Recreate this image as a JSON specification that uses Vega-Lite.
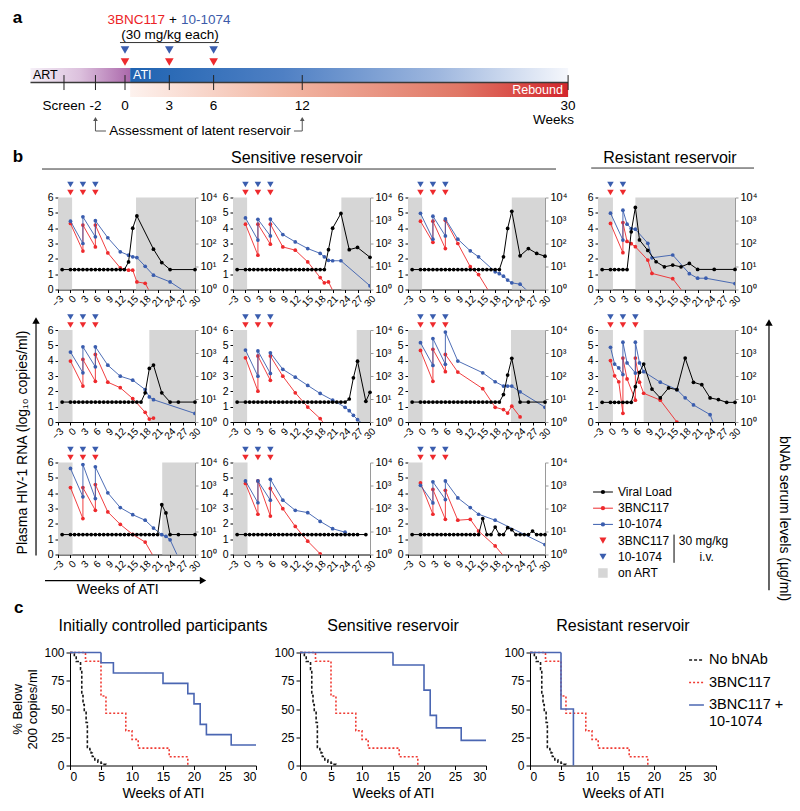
{
"$schema":"https://vega.github.io/schema/vega-lite/v6.json",
"padding":0,
"background":"white",
"config":{"view":{"stroke":null},"font":"Liberation Sans",
"axis":{"labelFont":"Liberation Sans","titleFont":"Liberation Sans","labelColor":"#000","titleColor":"#000","domainColor":"#000","tickColor":"#000","grid":false,"tickSize":3,"labelFontSize":10.5,"labelPadding":2,"titleFontWeight":"normal","labelOverlap":false},
"axisBottom":{"labelAngle":-45,"labelFontSize":10,"labelPadding":1,"labelOverlap":false,"labelBound":false},
"axisRight":{"domainColor":"#9a9a9a","tickColor":"#9a9a9a","labelFontSize":11},
"legend":{"labelFont":"Liberation Sans"},"text":{"font":"Liberation Sans","color":"#000"},"title":{"font":"Liberation Sans"}},
"datasets":{
"km":[
{"c":"all","g":"No bNAb","t":0,"s":100},{"c":"all","g":"No bNAb","t":0.7,"s":96},{"c":"all","g":"No bNAb","t":1,"s":92},{"c":"all","g":"No bNAb","t":1.7,"s":85},{"c":"all","g":"No bNAb","t":1.9,"s":62},{"c":"all","g":"No bNAb","t":2.1,"s":54},{"c":"all","g":"No bNAb","t":2.3,"s":48},{"c":"all","g":"No bNAb","t":2.6,"s":38},{"c":"all","g":"No bNAb","t":2.8,"s":16},{"c":"all","g":"No bNAb","t":3.2,"s":14},{"c":"all","g":"No bNAb","t":3.4,"s":11},{"c":"all","g":"No bNAb","t":3.6,"s":8},{"c":"all","g":"No bNAb","t":4,"s":5},{"c":"all","g":"No bNAb","t":4.5,"s":3},{"c":"all","g":"No bNAb","t":5,"s":2},{"c":"all","g":"No bNAb","t":5.5,"s":1},{"c":"all","g":"No bNAb","t":5.8,"s":0},
{"c":"all","g":"3BNC117","t":0,"s":100},{"c":"all","g":"3BNC117","t":2.5,"s":92.3},{"c":"all","g":"3BNC117","t":5,"s":61.5},{"c":"all","g":"3BNC117","t":5.8,"s":46.2},{"c":"all","g":"3BNC117","t":9,"s":30.8},{"c":"all","g":"3BNC117","t":10,"s":23.1},{"c":"all","g":"3BNC117","t":11,"s":15.4},{"c":"all","g":"3BNC117","t":16,"s":7.7},{"c":"all","g":"3BNC117","t":19,"s":0},
{"c":"ic","g":"3BNC117 + 10-1074","t":0,"s":100},{"c":"ic","g":"3BNC117 + 10-1074","t":5,"s":90.9},{"c":"ic","g":"3BNC117 + 10-1074","t":7,"s":81.8},{"c":"ic","g":"3BNC117 + 10-1074","t":15,"s":72.7},{"c":"ic","g":"3BNC117 + 10-1074","t":19,"s":63.6},{"c":"ic","g":"3BNC117 + 10-1074","t":20,"s":54.5},{"c":"ic","g":"3BNC117 + 10-1074","t":21,"s":36.4},{"c":"ic","g":"3BNC117 + 10-1074","t":22,"s":27.3},{"c":"ic","g":"3BNC117 + 10-1074","t":26,"s":18.2},{"c":"ic","g":"3BNC117 + 10-1074","t":30,"s":18.2},
{"c":"sr","g":"3BNC117 + 10-1074","t":0,"s":100},{"c":"sr","g":"3BNC117 + 10-1074","t":15,"s":88.9},{"c":"sr","g":"3BNC117 + 10-1074","t":20,"s":66.7},{"c":"sr","g":"3BNC117 + 10-1074","t":21,"s":44.4},{"c":"sr","g":"3BNC117 + 10-1074","t":22,"s":33.3},{"c":"sr","g":"3BNC117 + 10-1074","t":26,"s":22.2},{"c":"sr","g":"3BNC117 + 10-1074","t":30,"s":22.2},
{"c":"rr","g":"3BNC117 + 10-1074","t":0,"s":100},{"c":"rr","g":"3BNC117 + 10-1074","t":5,"s":50},{"c":"rr","g":"3BNC117 + 10-1074","t":7,"s":0}
]},
"columns":9,
"spacing":{"row":40.5,"column":0},
"bounds":"flush",
"align":"each",
"resolve":{"scale":{"color":"independent","strokeDash":"independent"},"legend":{"color":"independent","strokeDash":"independent"}},
"concat":[
{"vconcat":[{
"width":800,"height":156.5,
"resolve":{"scale":{"x":"independent"}},
"layer":[
{"data":{"values":[{"phase":"ART","w":-6.4,"w2":0.35}]},"mark":{"type":"rect","color":{"gradient":"linear","stops":[{"offset":0,"color":"#f5eff7"},{"offset":0.5,"color":"#dcc0dd"},{"offset":1,"color":"#ab68ab"}]}},"encoding":{"x":{"field":"w","type":"quantitative","scale":{"domain":[-8.463,45.7],"nice":false,"zero":false},"axis":null},"x2":{"field":"w2"},"y":{"datum":0.345,"type":"quantitative","scale":{"domain":[0,0.7944],"reverse":true,"nice":false,"zero":false},"axis":null},"y2":{"datum":0.416}}},
{"data":{"values":[{"phase":"ATI","w":0.35,"w2":30}]},"mark":{"type":"rect","color":{"gradient":"linear","stops":[{"offset":0,"color":"#1f63b1"},{"offset":0.35,"color":"#4f80c4"},{"offset":0.7,"color":"#9db6de"},{"offset":1,"color":"#f5f7fc"}]}},"encoding":{"x":{"field":"w","type":"quantitative","scale":{"domain":[-8.463,45.7],"nice":false,"zero":false},"axis":null},"x2":{"field":"w2"},"y":{"datum":0.345,"type":"quantitative","scale":{"domain":[0,0.7944],"reverse":true,"nice":false,"zero":false},"axis":null},"y2":{"datum":0.416}}},
{"data":{"values":[{"phase":"Rebound","w":0.35,"w2":30}]},"mark":{"type":"rect","color":{"gradient":"linear","stops":[{"offset":0,"color":"#fdf2ee"},{"offset":0.35,"color":"#f2b7a4"},{"offset":0.75,"color":"#e07766"},{"offset":1,"color":"#d3262c"}]}},"encoding":{"x":{"field":"w","type":"quantitative","scale":{"domain":[-8.463,45.7],"nice":false,"zero":false},"axis":null},"x2":{"field":"w2"},"y":{"datum":0.421,"type":"quantitative","scale":{"domain":[0,0.7944],"reverse":true,"nice":false,"zero":false},"axis":null},"y2":{"datum":0.492}}},
{"data":{"values":[{}]},"mark":{"type":"rule","color":"#3a3a3a","strokeWidth":1.5},"encoding":{"x":{"datum":-6.4,"type":"quantitative","scale":{"domain":[-8.463,45.7],"nice":false,"zero":false},"axis":null},"x2":{"datum":30},"y":{"datum":0.419,"type":"quantitative","scale":{"domain":[0,0.7944],"reverse":true,"nice":false,"zero":false},"axis":null}}},
{"data":{"values":[{"t":"Screen","w":-4.13},{"t":"-2","w":-2},{"t":"0","w":0},{"t":"3","w":3},{"t":"6","w":6},{"t":"12","w":12},{"t":"30","w":30}]},"mark":{"type":"rule","color":"#222","strokeWidth":1},"encoding":{"x":{"field":"w","type":"quantitative","scale":{"domain":[-8.463,45.7],"nice":false,"zero":false},"axis":null},"y":{"datum":0.381,"type":"quantitative","scale":{"domain":[0,0.7944],"reverse":true,"nice":false,"zero":false},"axis":null},"y2":{"datum":0.457}}},
{"data":{"values":[{"t":"Screen","w":-4.13},{"t":"-2","w":-2},{"t":"0","w":0},{"t":"3","w":3},{"t":"6","w":6},{"t":"12","w":12},{"t":"30","w":30}]},"mark":{"type":"text","fontSize":13.5,"baseline":"middle"},"encoding":{"x":{"field":"w","type":"quantitative","scale":{"domain":[-8.463,45.7],"nice":false,"zero":false},"axis":null},"y":{"datum":0.538,"type":"quantitative","scale":{"domain":[0,0.7944],"reverse":true,"nice":false,"zero":false},"axis":null},"text":{"field":"t"}}},
{"data":{"values":[{}]},"mark":{"type":"text","text":"ART","align":"left","baseline":"middle","fontSize":12.5},"encoding":{"x":{"datum":-6.23,"type":"quantitative","scale":{"domain":[-8.463,45.7],"nice":false,"zero":false},"axis":null},"y":{"datum":0.381,"type":"quantitative","scale":{"domain":[0,0.7944],"reverse":true,"nice":false,"zero":false},"axis":null}}},
{"data":{"values":[{}]},"mark":{"type":"text","text":"ATI","align":"left","baseline":"middle","fontSize":12.5,"color":"#fff"},"encoding":{"x":{"datum":0.54,"type":"quantitative","scale":{"domain":[-8.463,45.7],"nice":false,"zero":false},"axis":null},"y":{"datum":0.381,"type":"quantitative","scale":{"domain":[0,0.7944],"reverse":true,"nice":false,"zero":false},"axis":null}}},
{"data":{"values":[{}]},"mark":{"type":"text","text":"Rebound","align":"right","baseline":"middle","fontSize":12.5,"color":"#fff"},"encoding":{"x":{"datum":29.65,"type":"quantitative","scale":{"domain":[-8.463,45.7],"nice":false,"zero":false},"axis":null},"y":{"datum":0.457,"type":"quantitative","scale":{"domain":[0,0.7944],"reverse":true,"nice":false,"zero":false},"axis":null}}},
{"data":{"values":[{}]},"mark":{"type":"text","text":"Weeks","align":"right","baseline":"middle","fontSize":13.5},"encoding":{"x":{"datum":30.4,"type":"quantitative","scale":{"domain":[-8.463,45.7],"nice":false,"zero":false},"axis":null},"y":{"datum":0.609,"type":"quantitative","scale":{"domain":[0,0.7944],"reverse":true,"nice":false,"zero":false},"axis":null}}},
{"data":{"values":[{"w":0},{"w":3},{"w":6}]},"mark":{"type":"point","shape":"triangle-down","filled":true,"size":75,"color":"#3a5dae","opacity":1},"encoding":{"x":{"field":"w","type":"quantitative","scale":{"domain":[-8.463,45.7],"nice":false,"zero":false},"axis":null},"y":{"datum":0.254,"type":"quantitative","scale":{"domain":[0,0.7944],"reverse":true,"nice":false,"zero":false},"axis":null}}},
{"data":{"values":[{"w":0},{"w":3},{"w":6}]},"mark":{"type":"point","shape":"triangle-down","filled":true,"size":75,"color":"#ee2a2d","opacity":1},"encoding":{"x":{"field":"w","type":"quantitative","scale":{"domain":[-8.463,45.7],"nice":false,"zero":false},"axis":null},"y":{"datum":0.315,"type":"quantitative","scale":{"domain":[0,0.7944],"reverse":true,"nice":false,"zero":false},"axis":null}}},
{"data":{"values":[{}]},"mark":{"type":"rule","color":"#333","strokeWidth":1},"encoding":{"x":{"datum":-0.34,"type":"quantitative","scale":{"domain":[-8.463,45.7],"nice":false,"zero":false},"axis":null},"x2":{"datum":6.36},"y":{"datum":0.216,"type":"quantitative","scale":{"domain":[0,0.7944],"reverse":true,"nice":false,"zero":false},"axis":null}}},
{"data":{"values":[{}]},"mark":{"type":"text","text":"3BNC117","align":"right","baseline":"middle","fontSize":13.5,"color":"#ec2327"},"encoding":{"x":{"datum":2.71,"type":"quantitative","scale":{"domain":[-8.463,45.7],"nice":false,"zero":false},"axis":null},"y":{"datum":0.1015,"type":"quantitative","scale":{"domain":[0,0.7944],"reverse":true,"nice":false,"zero":false},"axis":null}}},
{"data":{"values":[{}]},"mark":{"type":"text","text":"+","align":"center","baseline":"middle","fontSize":13.5},"encoding":{"x":{"datum":3.25,"type":"quantitative","scale":{"domain":[-8.463,45.7],"nice":false,"zero":false},"axis":null},"y":{"datum":0.1015,"type":"quantitative","scale":{"domain":[0,0.7944],"reverse":true,"nice":false,"zero":false},"axis":null}}},
{"data":{"values":[{}]},"mark":{"type":"text","text":"10-1074","align":"left","baseline":"middle","fontSize":13.5,"color":"#3c5ba9"},"encoding":{"x":{"datum":3.79,"type":"quantitative","scale":{"domain":[-8.463,45.7],"nice":false,"zero":false},"axis":null},"y":{"datum":0.1015,"type":"quantitative","scale":{"domain":[0,0.7944],"reverse":true,"nice":false,"zero":false},"axis":null}}},
{"data":{"values":[{}]},"mark":{"type":"text","text":"(30 mg/kg each)","align":"center","baseline":"middle","fontSize":13.5},"encoding":{"x":{"datum":3.05,"type":"quantitative","scale":{"domain":[-8.463,45.7],"nice":false,"zero":false},"axis":null},"y":{"datum":0.178,"type":"quantitative","scale":{"domain":[0,0.7944],"reverse":true,"nice":false,"zero":false},"axis":null}}},
{"data":{"values":[{"w":-2},{"w":12}]},"mark":{"type":"rule","color":"#555","strokeWidth":1},"encoding":{"x":{"field":"w","type":"quantitative","scale":{"domain":[-8.463,45.7],"nice":false,"zero":false},"axis":null},"y":{"datum":0.612,"type":"quantitative","scale":{"domain":[0,0.7944],"reverse":true,"nice":false,"zero":false},"axis":null},"y2":{"datum":0.665}}},
{"data":{"values":[{"w":-2},{"w":12}]},"mark":{"type":"point","shape":"triangle-up","filled":true,"size":22,"color":"#555","opacity":1},"encoding":{"x":{"field":"w","type":"quantitative","scale":{"domain":[-8.463,45.7],"nice":false,"zero":false},"axis":null},"y":{"datum":0.604,"type":"quantitative","scale":{"domain":[0,0.7944],"reverse":true,"nice":false,"zero":false},"axis":null}}},
{"data":{"values":[{}]},"mark":{"type":"rule","color":"#555","strokeWidth":1},"encoding":{"x":{"datum":-2,"type":"quantitative","scale":{"domain":[-8.463,45.7],"nice":false,"zero":false},"axis":null},"x2":{"datum":-1.29},"y":{"datum":0.665,"type":"quantitative","scale":{"domain":[0,0.7944],"reverse":true,"nice":false,"zero":false},"axis":null}}},
{"data":{"values":[{}]},"mark":{"type":"rule","color":"#555","strokeWidth":1},"encoding":{"x":{"datum":11.44,"type":"quantitative","scale":{"domain":[-8.463,45.7],"nice":false,"zero":false},"axis":null},"x2":{"datum":12},"y":{"datum":0.665,"type":"quantitative","scale":{"domain":[0,0.7944],"reverse":true,"nice":false,"zero":false},"axis":null}}},
{"data":{"values":[{}]},"mark":{"type":"text","text":"Assessment of latent reservoir","align":"center","baseline":"middle","fontSize":13.5},"encoding":{"x":{"datum":5.08,"type":"quantitative","scale":{"domain":[-8.463,45.7],"nice":false,"zero":false},"axis":null},"y":{"datum":0.665,"type":"quantitative","scale":{"domain":[0,0.7944],"reverse":true,"nice":false,"zero":false},"axis":null}}},
{"data":{"values":[{}]},"mark":{"type":"text","text":"a","align":"left","baseline":"middle","fontSize":17,"fontWeight":"bold"},"encoding":{"x":{"datum":0.016,"type":"quantitative","scale":{"domain":[0,1],"nice":false,"zero":false},"axis":null},"y":{"datum":0.089,"type":"quantitative","scale":{"domain":[0,0.7944],"reverse":true,"nice":false,"zero":false},"axis":null}}},
{"data":{"values":[{}]},"mark":{"type":"text","text":"b","align":"left","baseline":"middle","fontSize":17,"fontWeight":"bold"},"encoding":{"x":{"datum":0.016,"type":"quantitative","scale":{"domain":[0,1],"nice":false,"zero":false},"axis":null},"y":{"datum":0.797,"type":"quantitative","scale":{"domain":[0,0.7944],"reverse":true,"nice":false,"zero":false},"axis":null}}},
{"data":{"values":[{}]},"mark":{"type":"text","text":"Sensitive reservoir","align":"center","baseline":"middle","fontSize":16},"encoding":{"x":{"datum":0.371,"type":"quantitative","scale":{"domain":[0,1],"nice":false,"zero":false},"axis":null},"y":{"datum":0.802,"type":"quantitative","scale":{"domain":[0,0.7944],"reverse":true,"nice":false,"zero":false},"axis":null}}},
{"data":{"values":[{}]},"mark":{"type":"rule","color":"#333","strokeWidth":1},"encoding":{"x":{"datum":0.0525,"type":"quantitative","scale":{"domain":[0,1],"nice":false,"zero":false},"axis":null},"x2":{"datum":0.695},"y":{"datum":0.858,"type":"quantitative","scale":{"domain":[0,0.7944],"reverse":true,"nice":false,"zero":false},"axis":null}}},
{"data":{"values":[{}]},"mark":{"type":"text","text":"Resistant reservoir","align":"center","baseline":"middle","fontSize":16},"encoding":{"x":{"datum":0.8375,"type":"quantitative","scale":{"domain":[0,1],"nice":false,"zero":false},"axis":null},"y":{"datum":0.802,"type":"quantitative","scale":{"domain":[0,0.7944],"reverse":true,"nice":false,"zero":false},"axis":null}}},
{"data":{"values":[{}]},"mark":{"type":"rule","color":"#333","strokeWidth":1},"encoding":{"x":{"datum":0.739,"type":"quantitative","scale":{"domain":[0,1],"nice":false,"zero":false},"axis":null},"x2":{"datum":0.9425},"y":{"datum":0.853,"type":"quantitative","scale":{"domain":[0,0.7944],"reverse":true,"nice":false,"zero":false},"axis":null}}}
]
}],"spacing":0,"bounds":"flush"},
{"width":0,"height":156.5,"data":{"values":[]},"mark":"point"},
{"width":0,"height":156.5,"data":{"values":[]},"mark":"point"},
{"width":0,"height":156.5,"data":{"values":[]},"mark":"point"},
{"width":0,"height":156.5,"data":{"values":[]},"mark":"point"},
{"width":0,"height":156.5,"data":{"values":[]},"mark":"point"},
{"width":0,"height":156.5,"data":{"values":[]},"mark":"point"},
{"width":0,"height":156.5,"data":{"values":[]},"mark":"point"},
{"width":0,"height":156.5,"data":{"values":[]},"mark":"point"},

{"width":58,"height":92,"data":{"values":[]},"mark":"point"},
{"width":137,"height":92,
"encoding":{"x":{"field":"w","type":"quantitative","scale":{"domain":[-3,30],"nice":false},"axis":{"values":[-3,0,3,6,9,12,15,18,21,24,27,30],"title":null}}},
"layer":[
{"data":{"values":[{"w":-3,"w2":0.4},{"w":15.8,"w2":30}]},"mark":{"type":"rect","color":"#d6d6d6"},"encoding":{"x2":{"field":"w2"}}},
{"data":{"values":[{"i":0,"w":0,"v":2.87},{"i":1,"w":3,"v":1.67},{"i":2,"w":3,"v":2.8},{"i":3,"w":6,"v":1.85},{"i":4,"w":6,"v":2.8},{"i":5,"w":9,"v":1.59},{"i":6,"w":12,"v":0.94},{"i":7,"w":14,"v":0.84},{"i":8,"w":15,"v":0.84},{"i":9,"w":16,"v":0.33},{"i":10,"w":18,"v":0.27},{"i":11,"w":20,"v":-0.4}]},"mark":{"type":"line","color":"#ee2a2d","strokeWidth":0.9,"clip":true,"point":{"filled":true,"size":14,"color":"#ee2a2d","opacity":1,"clip":true}},"encoding":{"y":{"field":"v","type":"quantitative","scale":{"domain":[0,4],"nice":false},"axis":{"orient":"right","values":[0,1,2,3,4],"labelExpr":"'10'+['⁰','¹','²','³','⁴'][datum.value]","title":null}},"order":{"field":"i"}}},
{"data":{"values":[{"i":0,"w":0,"v":2.97},{"i":1,"w":3,"v":2.0},{"i":2,"w":3,"v":3.16},{"i":3,"w":6,"v":2.29},{"i":4,"w":6,"v":2.99},{"i":5,"w":9,"v":2.25},{"i":6,"w":12,"v":1.64},{"i":7,"w":14,"v":1.49},{"i":8,"w":15,"v":1.42},{"i":9,"w":16,"v":1.39},{"i":10,"w":18,"v":1.01},{"i":11,"w":20,"v":0.62},{"i":12,"w":24,"v":0.33},{"i":13,"w":30,"v":-0.38}]},"mark":{"type":"line","color":"#3a5dae","strokeWidth":0.9,"clip":true,"point":{"filled":true,"size":14,"color":"#3a5dae","opacity":1,"clip":true}},"encoding":{"y":{"field":"v","type":"quantitative","scale":{"domain":[0,4],"nice":false},"axis":null},"order":{"field":"i"}}},
{"data":{"values":[{"w":-2,"v":1.3},{"w":0,"v":1.3},{"w":1,"v":1.3},{"w":2,"v":1.3},{"w":3,"v":1.3},{"w":4,"v":1.3},{"w":5,"v":1.3},{"w":6,"v":1.3},{"w":7,"v":1.3},{"w":8,"v":1.3},{"w":9,"v":1.3},{"w":10,"v":1.3},{"w":11,"v":1.3},{"w":12,"v":1.3},{"w":13,"v":1.3},{"w":14,"v":1.8},{"w":15,"v":4.0},{"w":16,"v":4.8},{"w":20,"v":2.63},{"w":22,"v":1.76},{"w":24,"v":1.3},{"w":30,"v":1.3}]},"mark":{"type":"line","color":"#000","strokeWidth":1,"point":{"filled":true,"size":14,"color":"#000","opacity":1}},"encoding":{"y":{"field":"v","type":"quantitative","scale":{"domain":[0,6],"nice":false},"axis":{"orient":"left","values":[0,1,2,3,4,5,6],"title":null}}}},
{"data":{"values":[{"w":0},{"w":3},{"w":6}]},"mark":{"type":"point","shape":"triangle-down","filled":true,"size":42,"color":"#3a5dae","opacity":1},"encoding":{"y":{"datum":6.85,"type":"quantitative","scale":{"domain":[0,6],"nice":false},"axis":null}}},
{"data":{"values":[{"w":0},{"w":3},{"w":6}]},"mark":{"type":"point","shape":"triangle-down","filled":true,"size":42,"color":"#ee2a2d","opacity":1},"encoding":{"y":{"datum":6.33,"type":"quantitative","scale":{"domain":[0,6],"nice":false},"axis":null}}},
{"data":{"values":[{"id":"9242"}]},"mark":{"type":"text","align":"left","baseline":"middle","fontSize":13},"encoding":{"x":{"datum":0.7,"type":"quantitative"},"y":{"datum":0.5,"type":"quantitative","scale":{"domain":[0,6],"nice":false},"axis":null},"text":{"field":"id"}}}
],
"resolve":{"scale":{"y":"independent"}}},
{"width":37.5,"height":92,"data":{"values":[]},"mark":"point"},
{"width":137,"height":92,
"encoding":{"x":{"field":"w","type":"quantitative","scale":{"domain":[-3,30],"nice":false},"axis":{"values":[-3,0,3,6,9,12,15,18,21,24,27,30],"title":null}}},
"layer":[
{"data":{"values":[{"w":-3,"w2":0.4},{"w":23.1,"w2":30}]},"mark":{"type":"rect","color":"#d6d6d6"},"encoding":{"x2":{"field":"w2"}}},
{"data":{"values":[{"i":0,"w":0,"v":2.84},{"i":1,"w":3,"v":1.49},{"i":2,"w":3,"v":2.84},{"i":3,"w":6,"v":1.97},{"i":4,"w":6,"v":2.84},{"i":5,"w":9,"v":1.85},{"i":6,"w":12,"v":1.71},{"i":7,"w":15,"v":1.2},{"i":8,"w":18,"v":0.52},{"i":9,"w":19,"v":0.29},{"i":10,"w":20,"v":0.33},{"i":11,"w":22,"v":-0.4}]},"mark":{"type":"line","color":"#ee2a2d","strokeWidth":0.9,"clip":true,"point":{"filled":true,"size":14,"color":"#ee2a2d","opacity":1,"clip":true}},"encoding":{"y":{"field":"v","type":"quantitative","scale":{"domain":[0,4],"nice":false},"axis":{"orient":"right","values":[0,1,2,3,4],"labelExpr":"'10'+['⁰','¹','²','³','⁴'][datum.value]","title":null}},"order":{"field":"i"}}},
{"data":{"values":[{"i":0,"w":0,"v":3.11},{"i":1,"w":3,"v":2.15},{"i":2,"w":3,"v":3.05},{"i":3,"w":6,"v":2.33},{"i":4,"w":6,"v":3.06},{"i":5,"w":9,"v":2.39},{"i":6,"w":12,"v":2.07},{"i":7,"w":15,"v":1.78},{"i":8,"w":18,"v":1.57},{"i":9,"w":19,"v":1.42},{"i":10,"w":20,"v":1.27},{"i":11,"w":21,"v":1.25},{"i":12,"w":23,"v":1.25},{"i":13,"w":30,"v":0.16}]},"mark":{"type":"line","color":"#3a5dae","strokeWidth":0.9,"clip":true,"point":{"filled":true,"size":14,"color":"#3a5dae","opacity":1,"clip":true}},"encoding":{"y":{"field":"v","type":"quantitative","scale":{"domain":[0,4],"nice":false},"axis":null},"order":{"field":"i"}}},
{"data":{"values":[{"w":-2,"v":1.3},{"w":0,"v":1.3},{"w":1,"v":1.3},{"w":2,"v":1.3},{"w":3,"v":1.3},{"w":4,"v":1.3},{"w":5,"v":1.3},{"w":6,"v":1.3},{"w":7,"v":1.3},{"w":8,"v":1.3},{"w":9,"v":1.3},{"w":10,"v":1.3},{"w":11,"v":1.3},{"w":12,"v":1.3},{"w":13,"v":1.3},{"w":14,"v":1.3},{"w":15,"v":1.3},{"w":16,"v":1.3},{"w":17,"v":1.3},{"w":18,"v":1.3},{"w":19,"v":1.3},{"w":20,"v":2.6},{"w":21,"v":4.0},{"w":23,"v":4.96},{"w":25,"v":2.6},{"w":27,"v":2.74},{"w":30,"v":2.1}]},"mark":{"type":"line","color":"#000","strokeWidth":1,"point":{"filled":true,"size":14,"color":"#000","opacity":1}},"encoding":{"y":{"field":"v","type":"quantitative","scale":{"domain":[0,6],"nice":false},"axis":{"orient":"left","values":[0,1,2,3,4,5,6],"title":null}}}},
{"data":{"values":[{"w":0},{"w":3},{"w":6}]},"mark":{"type":"point","shape":"triangle-down","filled":true,"size":42,"color":"#3a5dae","opacity":1},"encoding":{"y":{"datum":6.85,"type":"quantitative","scale":{"domain":[0,6],"nice":false},"axis":null}}},
{"data":{"values":[{"w":0},{"w":3},{"w":6}]},"mark":{"type":"point","shape":"triangle-down","filled":true,"size":42,"color":"#ee2a2d","opacity":1},"encoding":{"y":{"datum":6.33,"type":"quantitative","scale":{"domain":[0,6],"nice":false},"axis":null}}},
{"data":{"values":[{"id":"9243"}]},"mark":{"type":"text","align":"left","baseline":"middle","fontSize":13},"encoding":{"x":{"datum":0.7,"type":"quantitative"},"y":{"datum":0.5,"type":"quantitative","scale":{"domain":[0,6],"nice":false},"axis":null},"text":{"field":"id"}}}
],
"resolve":{"scale":{"y":"independent"}}},
{"width":37.5,"height":92,"data":{"values":[]},"mark":"point"},
{"width":137,"height":92,
"encoding":{"x":{"field":"w","type":"quantitative","scale":{"domain":[-3,30],"nice":false},"axis":{"values":[-3,0,3,6,9,12,15,18,21,24,27,30],"title":null}}},
"layer":[
{"data":{"values":[{"w":-3,"w2":0.4},{"w":22,"w2":30}]},"mark":{"type":"rect","color":"#d6d6d6"},"encoding":{"x2":{"field":"w2"}}},
{"data":{"values":[{"i":0,"w":0,"v":2.97},{"i":1,"w":3,"v":2.05},{"i":2,"w":3,"v":2.97},{"i":3,"w":6,"v":1.78},{"i":4,"w":6,"v":3.01},{"i":5,"w":9,"v":2.0},{"i":6,"w":12,"v":0.99},{"i":7,"w":14,"v":0.65},{"i":8,"w":18,"v":-0.53}]},"mark":{"type":"line","color":"#ee2a2d","strokeWidth":0.9,"clip":true,"point":{"filled":true,"size":14,"color":"#ee2a2d","opacity":1,"clip":true}},"encoding":{"y":{"field":"v","type":"quantitative","scale":{"domain":[0,4],"nice":false},"axis":{"orient":"right","values":[0,1,2,3,4],"labelExpr":"'10'+['⁰','¹','²','³','⁴'][datum.value]","title":null}},"order":{"field":"i"}}},
{"data":{"values":[{"i":0,"w":0,"v":3.31},{"i":1,"w":3,"v":2.19},{"i":2,"w":3,"v":3.19},{"i":3,"w":6,"v":2.33},{"i":4,"w":6,"v":3.07},{"i":5,"w":9,"v":2.19},{"i":6,"w":12,"v":1.68},{"i":7,"w":14,"v":1.42},{"i":8,"w":18,"v":0.77},{"i":9,"w":19,"v":0.69},{"i":10,"w":20,"v":0.58},{"i":11,"w":21,"v":0.41},{"i":12,"w":22,"v":0.29},{"i":13,"w":24,"v":0.23},{"i":14,"w":28,"v":-0.43}]},"mark":{"type":"line","color":"#3a5dae","strokeWidth":0.9,"clip":true,"point":{"filled":true,"size":14,"color":"#3a5dae","opacity":1,"clip":true}},"encoding":{"y":{"field":"v","type":"quantitative","scale":{"domain":[0,4],"nice":false},"axis":null},"order":{"field":"i"}}},
{"data":{"values":[{"w":-2,"v":1.3},{"w":0,"v":1.3},{"w":1,"v":1.3},{"w":2,"v":1.3},{"w":3,"v":1.3},{"w":4,"v":1.3},{"w":5,"v":1.3},{"w":6,"v":1.3},{"w":7,"v":1.3},{"w":8,"v":1.3},{"w":9,"v":1.3},{"w":10,"v":1.3},{"w":11,"v":1.3},{"w":12,"v":1.3},{"w":13,"v":1.3},{"w":14,"v":1.3},{"w":15,"v":1.3},{"w":16,"v":1.3},{"w":17,"v":1.3},{"w":18,"v":1.3},{"w":19,"v":1.3},{"w":20,"v":2.13},{"w":21,"v":3.98},{"w":22,"v":5.1},{"w":24,"v":2.2},{"w":26,"v":2.67},{"w":28,"v":2.35},{"w":30,"v":2.17}]},"mark":{"type":"line","color":"#000","strokeWidth":1,"point":{"filled":true,"size":14,"color":"#000","opacity":1}},"encoding":{"y":{"field":"v","type":"quantitative","scale":{"domain":[0,6],"nice":false},"axis":{"orient":"left","values":[0,1,2,3,4,5,6],"title":null}}}},
{"data":{"values":[{"w":0},{"w":3},{"w":6}]},"mark":{"type":"point","shape":"triangle-down","filled":true,"size":42,"color":"#3a5dae","opacity":1},"encoding":{"y":{"datum":6.85,"type":"quantitative","scale":{"domain":[0,6],"nice":false},"axis":null}}},
{"data":{"values":[{"w":0},{"w":3},{"w":6}]},"mark":{"type":"point","shape":"triangle-down","filled":true,"size":42,"color":"#ee2a2d","opacity":1},"encoding":{"y":{"datum":6.33,"type":"quantitative","scale":{"domain":[0,6],"nice":false},"axis":null}}},
{"data":{"values":[{"id":"9244"}]},"mark":{"type":"text","align":"left","baseline":"middle","fontSize":13},"encoding":{"x":{"datum":0.7,"type":"quantitative"},"y":{"datum":0.5,"type":"quantitative","scale":{"domain":[0,6],"nice":false},"axis":null},"text":{"field":"id"}}}
],
"resolve":{"scale":{"y":"independent"}}},
{"width":53,"height":92,"data":{"values":[]},"mark":"point"},
{"width":137,"height":92,
"encoding":{"x":{"field":"w","type":"quantitative","scale":{"domain":[-3,30],"nice":false},"axis":{"values":[-3,0,3,6,9,12,15,18,21,24,27,30],"title":null}}},
"layer":[
{"data":{"values":[{"w":-3,"w2":0.6},{"w":6,"w2":30}]},"mark":{"type":"rect","color":"#d6d6d6"},"encoding":{"x2":{"field":"w2"}}},
{"data":{"values":[{"i":0,"w":0,"v":2.87},{"i":1,"w":3,"v":1.6},{"i":2,"w":3,"v":2.91},{"i":3,"w":4,"v":2.09},{"i":4,"w":5,"v":1.99},{"i":5,"w":6,"v":1.86},{"i":6,"w":9,"v":1.28},{"i":7,"w":10,"v":0.7},{"i":8,"w":15,"v":0.47},{"i":9,"w":19,"v":-0.47}]},"mark":{"type":"line","color":"#ee2a2d","strokeWidth":0.9,"clip":true,"point":{"filled":true,"size":14,"color":"#ee2a2d","opacity":1,"clip":true}},"encoding":{"y":{"field":"v","type":"quantitative","scale":{"domain":[0,4],"nice":false},"axis":{"orient":"right","values":[0,1,2,3,4],"labelExpr":"'10'+['⁰','¹','²','³','⁴'][datum.value]","title":null}},"order":{"field":"i"}}},
{"data":{"values":[{"i":0,"w":0,"v":3.32},{"i":1,"w":3,"v":2.15},{"i":2,"w":3,"v":3.45},{"i":3,"w":4,"v":2.84},{"i":4,"w":5,"v":2.65},{"i":5,"w":6,"v":2.62},{"i":6,"w":9,"v":2.01},{"i":7,"w":10,"v":1.38},{"i":8,"w":15,"v":1.5},{"i":9,"w":19,"v":0.69},{"i":10,"w":21,"v":0.49},{"i":11,"w":23,"v":0.49},{"i":12,"w":30,"v":0.26}]},"mark":{"type":"line","color":"#3a5dae","strokeWidth":0.9,"clip":true,"point":{"filled":true,"size":14,"color":"#3a5dae","opacity":1,"clip":true}},"encoding":{"y":{"field":"v","type":"quantitative","scale":{"domain":[0,4],"nice":false},"axis":null},"order":{"field":"i"}}},
{"data":{"values":[{"w":-2,"v":1.3},{"w":0,"v":1.3},{"w":1,"v":1.3},{"w":2,"v":1.3},{"w":3,"v":1.3},{"w":4,"v":1.3},{"w":5,"v":3.76},{"w":6,"v":5.35},{"w":7,"v":3.23},{"w":9,"v":2.55},{"w":11,"v":1.81},{"w":13,"v":1.48},{"w":15,"v":1.59},{"w":17,"v":1.48},{"w":19,"v":1.7},{"w":21,"v":1.31},{"w":25,"v":1.31},{"w":30,"v":1.31}]},"mark":{"type":"line","color":"#000","strokeWidth":1,"point":{"filled":true,"size":14,"color":"#000","opacity":1}},"encoding":{"y":{"field":"v","type":"quantitative","scale":{"domain":[0,6],"nice":false},"axis":{"orient":"left","values":[0,1,2,3,4,5,6],"title":null}}}},
{"data":{"values":[{"w":0},{"w":3}]},"mark":{"type":"point","shape":"triangle-down","filled":true,"size":42,"color":"#3a5dae","opacity":1},"encoding":{"y":{"datum":6.85,"type":"quantitative","scale":{"domain":[0,6],"nice":false},"axis":null}}},
{"data":{"values":[{"w":0},{"w":3}]},"mark":{"type":"point","shape":"triangle-down","filled":true,"size":42,"color":"#ee2a2d","opacity":1},"encoding":{"y":{"datum":6.33,"type":"quantitative","scale":{"domain":[0,6],"nice":false},"axis":null}}},
{"data":{"values":[{"id":"9245"}]},"mark":{"type":"text","align":"left","baseline":"middle","fontSize":13},"encoding":{"x":{"datum":0.9,"type":"quantitative"},"y":{"datum":0.5,"type":"quantitative","scale":{"domain":[0,6],"nice":false},"axis":null},"text":{"field":"id"}}}
],
"resolve":{"scale":{"y":"independent"}}},
{"width":66,"height":92,"data":{"values":[]},"mark":"point"},

{"width":58,"height":92,
"data":{"values":[{}]},
"layer":[
{"mark":{"type":"rule","color":"#000","strokeWidth":1.2},"encoding":{"x":{"datum":0.621,"type":"quantitative","scale":{"domain":[0,1],"nice":false,"zero":false},"axis":null},"y":{"datum":2.451,"type":"quantitative","scale":{"domain":[0,1],"reverse":true,"nice":false,"zero":false},"axis":null},"y2":{"datum":-0.09}}},
{"mark":{"type":"point","shape":"triangle-up","filled":true,"size":55,"color":"#000","opacity":1},"encoding":{"x":{"datum":0.621,"type":"quantitative","scale":{"domain":[0,1],"nice":false,"zero":false},"axis":null},"y":{"datum":-0.103,"type":"quantitative","scale":{"domain":[0,1],"reverse":true,"nice":false,"zero":false},"axis":null}}},
{"mark":{"type":"text","text":"Plasma HIV-1 RNA (log₁₀ copies/ml)","angle":270,"align":"center","baseline":"middle","fontSize":14},"encoding":{"x":{"datum":0.397,"type":"quantitative","scale":{"domain":[0,1],"nice":false,"zero":false},"axis":null},"y":{"datum":1.223,"type":"quantitative","scale":{"domain":[0,1],"reverse":true,"nice":false,"zero":false},"axis":null}}}
]},
{"width":137,"height":92,
"encoding":{"x":{"field":"w","type":"quantitative","scale":{"domain":[-3,30],"nice":false},"axis":{"values":[-3,0,3,6,9,12,15,18,21,24,27,30],"title":null}}},
"layer":[
{"data":{"values":[{"w":-3,"w2":0.5},{"w":19,"w2":30}]},"mark":{"type":"rect","color":"#d6d6d6"},"encoding":{"x2":{"field":"w2"}}},
{"data":{"values":[{"i":0,"w":0,"v":2.65},{"i":1,"w":3,"v":1.56},{"i":2,"w":3,"v":2.72},{"i":3,"w":6,"v":1.77},{"i":4,"w":6,"v":2.94},{"i":5,"w":9,"v":1.73},{"i":6,"w":12,"v":1.49},{"i":7,"w":15,"v":1.02},{"i":8,"w":18,"v":0.42},{"i":9,"w":19,"v":0.13},{"i":10,"w":20,"v":0.17}]},"mark":{"type":"line","color":"#ee2a2d","strokeWidth":0.9,"clip":true,"point":{"filled":true,"size":14,"color":"#ee2a2d","opacity":1,"clip":true}},"encoding":{"y":{"field":"v","type":"quantitative","scale":{"domain":[0,4],"nice":false},"axis":{"orient":"right","values":[0,1,2,3,4],"labelExpr":"'10'+['⁰','¹','²','³','⁴'][datum.value]","title":null}},"order":{"field":"i"}}},
{"data":{"values":[{"i":0,"w":0,"v":3.04},{"i":1,"w":3,"v":2.14},{"i":2,"w":3,"v":3.27},{"i":3,"w":6,"v":2.4},{"i":4,"w":6,"v":3.27},{"i":5,"w":9,"v":2.47},{"i":6,"w":12,"v":1.99},{"i":7,"w":15,"v":1.82},{"i":8,"w":18,"v":1.41},{"i":9,"w":19,"v":1.09},{"i":10,"w":20,"v":0.97},{"i":11,"w":30,"v":0.37}]},"mark":{"type":"line","color":"#3a5dae","strokeWidth":0.9,"clip":true,"point":{"filled":true,"size":14,"color":"#3a5dae","opacity":1,"clip":true}},"encoding":{"y":{"field":"v","type":"quantitative","scale":{"domain":[0,4],"nice":false},"axis":null},"order":{"field":"i"}}},
{"data":{"values":[{"w":-2,"v":1.3},{"w":0,"v":1.3},{"w":1,"v":1.3},{"w":2,"v":1.3},{"w":3,"v":1.3},{"w":4,"v":1.3},{"w":5,"v":1.3},{"w":6,"v":1.3},{"w":7,"v":1.3},{"w":8,"v":1.3},{"w":9,"v":1.3},{"w":10,"v":1.3},{"w":11,"v":1.3},{"w":12,"v":1.3},{"w":13,"v":1.3},{"w":14,"v":1.3},{"w":15,"v":1.3},{"w":16,"v":1.3},{"w":17,"v":1.3},{"w":18,"v":1.9},{"w":19,"v":3.49},{"w":20,"v":3.71},{"w":22,"v":1.9},{"w":24,"v":1.3},{"w":26,"v":1.3},{"w":30,"v":1.3}]},"mark":{"type":"line","color":"#000","strokeWidth":1,"point":{"filled":true,"size":14,"color":"#000","opacity":1}},"encoding":{"y":{"field":"v","type":"quantitative","scale":{"domain":[0,6],"nice":false},"axis":{"orient":"left","values":[0,1,2,3,4,5,6],"title":null}}}},
{"data":{"values":[{"w":0},{"w":3},{"w":6}]},"mark":{"type":"point","shape":"triangle-down","filled":true,"size":42,"color":"#3a5dae","opacity":1},"encoding":{"y":{"datum":6.85,"type":"quantitative","scale":{"domain":[0,6],"nice":false},"axis":null}}},
{"data":{"values":[{"w":0},{"w":3},{"w":6}]},"mark":{"type":"point","shape":"triangle-down","filled":true,"size":42,"color":"#ee2a2d","opacity":1},"encoding":{"y":{"datum":6.33,"type":"quantitative","scale":{"domain":[0,6],"nice":false},"axis":null}}},
{"data":{"values":[{"id":"9246"}]},"mark":{"type":"text","align":"left","baseline":"middle","fontSize":13},"encoding":{"x":{"datum":0.7,"type":"quantitative"},"y":{"datum":0.5,"type":"quantitative","scale":{"domain":[0,6],"nice":false},"axis":null},"text":{"field":"id"}}}
],
"resolve":{"scale":{"y":"independent"}}},
{"width":37.5,"height":92,"data":{"values":[]},"mark":"point"},
{"width":137,"height":92,
"encoding":{"x":{"field":"w","type":"quantitative","scale":{"domain":[-3,30],"nice":false},"axis":{"values":[-3,0,3,6,9,12,15,18,21,24,27,30],"title":null}}},
"layer":[
{"data":{"values":[{"w":-3,"w2":0.4},{"w":26.8,"w2":30}]},"mark":{"type":"rect","color":"#d6d6d6"},"encoding":{"x2":{"field":"w2"}}},
{"data":{"values":[{"i":0,"w":0,"v":2.79},{"i":1,"w":3,"v":1.34},{"i":2,"w":3,"v":2.87},{"i":3,"w":6,"v":1.81},{"i":4,"w":6,"v":2.87},{"i":5,"w":9,"v":1.99},{"i":6,"w":12,"v":1.27},{"i":7,"w":15,"v":0.65},{"i":8,"w":18,"v":0.15},{"i":9,"w":20,"v":-0.33}]},"mark":{"type":"line","color":"#ee2a2d","strokeWidth":0.9,"clip":true,"point":{"filled":true,"size":14,"color":"#ee2a2d","opacity":1,"clip":true}},"encoding":{"y":{"field":"v","type":"quantitative","scale":{"domain":[0,4],"nice":false},"axis":{"orient":"right","values":[0,1,2,3,4],"labelExpr":"'10'+['⁰','¹','²','³','⁴'][datum.value]","title":null}},"order":{"field":"i"}}},
{"data":{"values":[{"i":0,"w":0,"v":3.13},{"i":1,"w":3,"v":1.99},{"i":2,"w":3,"v":3.09},{"i":3,"w":6,"v":2.11},{"i":4,"w":6,"v":3.01},{"i":5,"w":9,"v":2.29},{"i":6,"w":12,"v":1.95},{"i":7,"w":15,"v":1.59},{"i":8,"w":18,"v":1.24},{"i":9,"w":21,"v":0.95},{"i":10,"w":24,"v":0.64},{"i":11,"w":25,"v":0.49},{"i":12,"w":26,"v":0.29},{"i":13,"w":27,"v":0.1},{"i":14,"w":30,"v":-0.33}]},"mark":{"type":"line","color":"#3a5dae","strokeWidth":0.9,"clip":true,"point":{"filled":true,"size":14,"color":"#3a5dae","opacity":1,"clip":true}},"encoding":{"y":{"field":"v","type":"quantitative","scale":{"domain":[0,4],"nice":false},"axis":null},"order":{"field":"i"}}},
{"data":{"values":[{"w":-2,"v":1.3},{"w":0,"v":1.3},{"w":1,"v":1.3},{"w":2,"v":1.3},{"w":3,"v":1.3},{"w":4,"v":1.3},{"w":5,"v":1.3},{"w":6,"v":1.3},{"w":7,"v":1.3},{"w":8,"v":1.3},{"w":9,"v":1.3},{"w":10,"v":1.3},{"w":11,"v":1.3},{"w":12,"v":1.3},{"w":13,"v":1.3},{"w":14,"v":1.3},{"w":15,"v":1.3},{"w":16,"v":1.3},{"w":17,"v":1.3},{"w":18,"v":1.3},{"w":19,"v":1.3},{"w":20,"v":1.3},{"w":21,"v":1.3},{"w":22,"v":1.3},{"w":23,"v":1.3},{"w":24,"v":1.3},{"w":25,"v":1.5},{"w":26,"v":2.88},{"w":27,"v":3.97},{"w":29,"v":1.35},{"w":30,"v":1.94}]},"mark":{"type":"line","color":"#000","strokeWidth":1,"point":{"filled":true,"size":14,"color":"#000","opacity":1}},"encoding":{"y":{"field":"v","type":"quantitative","scale":{"domain":[0,6],"nice":false},"axis":{"orient":"left","values":[0,1,2,3,4,5,6],"title":null}}}},
{"data":{"values":[{"w":0},{"w":3},{"w":6}]},"mark":{"type":"point","shape":"triangle-down","filled":true,"size":42,"color":"#3a5dae","opacity":1},"encoding":{"y":{"datum":6.85,"type":"quantitative","scale":{"domain":[0,6],"nice":false},"axis":null}}},
{"data":{"values":[{"w":0},{"w":3},{"w":6}]},"mark":{"type":"point","shape":"triangle-down","filled":true,"size":42,"color":"#ee2a2d","opacity":1},"encoding":{"y":{"datum":6.33,"type":"quantitative","scale":{"domain":[0,6],"nice":false},"axis":null}}},
{"data":{"values":[{"id":"9247"}]},"mark":{"type":"text","align":"left","baseline":"middle","fontSize":13},"encoding":{"x":{"datum":0.7,"type":"quantitative"},"y":{"datum":0.5,"type":"quantitative","scale":{"domain":[0,6],"nice":false},"axis":null},"text":{"field":"id"}}}
],
"resolve":{"scale":{"y":"independent"}}},
{"width":37.5,"height":92,"data":{"values":[]},"mark":"point"},
{"width":137,"height":92,
"encoding":{"x":{"field":"w","type":"quantitative","scale":{"domain":[-3,30],"nice":false},"axis":{"values":[-3,0,3,6,9,12,15,18,21,24,27,30],"title":null}}},
"layer":[
{"data":{"values":[{"w":-3,"w2":0.5},{"w":21.8,"w2":30}]},"mark":{"type":"rect","color":"#d6d6d6"},"encoding":{"x2":{"field":"w2"}}},
{"data":{"values":[{"i":0,"w":0,"v":3.11},{"i":1,"w":3,"v":1.77},{"i":2,"w":3,"v":3.16},{"i":3,"w":6,"v":2.19},{"i":4,"w":6,"v":2.94},{"i":5,"w":9,"v":2.17},{"i":6,"w":15,"v":1.45},{"i":7,"w":18,"v":0.64},{"i":8,"w":20,"v":0.54},{"i":9,"w":21,"v":0.39},{"i":10,"w":22,"v":0.69},{"i":11,"w":24,"v":0.22}]},"mark":{"type":"line","color":"#ee2a2d","strokeWidth":0.9,"clip":true,"point":{"filled":true,"size":14,"color":"#ee2a2d","opacity":1,"clip":true}},"encoding":{"y":{"field":"v","type":"quantitative","scale":{"domain":[0,4],"nice":false},"axis":{"orient":"right","values":[0,1,2,3,4],"labelExpr":"'10'+['⁰','¹','²','³','⁴'][datum.value]","title":null}},"order":{"field":"i"}}},
{"data":{"values":[{"i":0,"w":0,"v":3.45},{"i":1,"w":3,"v":2.46},{"i":2,"w":3,"v":3.63},{"i":3,"w":6,"v":2.51},{"i":4,"w":6,"v":3.91},{"i":5,"w":9,"v":2.65},{"i":6,"w":15,"v":2.14},{"i":7,"w":18,"v":1.75},{"i":8,"w":20,"v":1.56},{"i":9,"w":21,"v":1.56},{"i":10,"w":22,"v":1.56},{"i":11,"w":24,"v":1.31},{"i":12,"w":30,"v":0.64}]},"mark":{"type":"line","color":"#3a5dae","strokeWidth":0.9,"clip":true,"point":{"filled":true,"size":14,"color":"#3a5dae","opacity":1,"clip":true}},"encoding":{"y":{"field":"v","type":"quantitative","scale":{"domain":[0,4],"nice":false},"axis":null},"order":{"field":"i"}}},
{"data":{"values":[{"w":-2,"v":1.3},{"w":0,"v":1.3},{"w":1,"v":1.3},{"w":2,"v":1.3},{"w":3,"v":1.3},{"w":4,"v":1.3},{"w":5,"v":1.3},{"w":6,"v":1.3},{"w":7,"v":1.3},{"w":8,"v":1.3},{"w":9,"v":1.3},{"w":10,"v":1.3},{"w":11,"v":1.3},{"w":12,"v":1.3},{"w":13,"v":1.3},{"w":14,"v":1.3},{"w":15,"v":1.3},{"w":16,"v":1.3},{"w":17,"v":1.3},{"w":18,"v":1.3},{"w":19,"v":1.3},{"w":20,"v":1.79},{"w":21,"v":3.06},{"w":22,"v":4.15},{"w":24,"v":1.3},{"w":26,"v":1.3},{"w":30,"v":1.3}]},"mark":{"type":"line","color":"#000","strokeWidth":1,"point":{"filled":true,"size":14,"color":"#000","opacity":1}},"encoding":{"y":{"field":"v","type":"quantitative","scale":{"domain":[0,6],"nice":false},"axis":{"orient":"left","values":[0,1,2,3,4,5,6],"title":null}}}},
{"data":{"values":[{"w":0},{"w":3},{"w":6}]},"mark":{"type":"point","shape":"triangle-down","filled":true,"size":42,"color":"#3a5dae","opacity":1},"encoding":{"y":{"datum":6.85,"type":"quantitative","scale":{"domain":[0,6],"nice":false},"axis":null}}},
{"data":{"values":[{"w":0},{"w":3},{"w":6}]},"mark":{"type":"point","shape":"triangle-down","filled":true,"size":42,"color":"#ee2a2d","opacity":1},"encoding":{"y":{"datum":6.33,"type":"quantitative","scale":{"domain":[0,6],"nice":false},"axis":null}}},
{"data":{"values":[{"id":"9241"}]},"mark":{"type":"text","align":"left","baseline":"middle","fontSize":13},"encoding":{"x":{"datum":0.7,"type":"quantitative"},"y":{"datum":0.5,"type":"quantitative","scale":{"domain":[0,6],"nice":false},"axis":null},"text":{"field":"id"}}}
],
"resolve":{"scale":{"y":"independent"}}},
{"width":53,"height":92,"data":{"values":[]},"mark":"point"},
{"width":137,"height":92,
"encoding":{"x":{"field":"w","type":"quantitative","scale":{"domain":[-3,30],"nice":false},"axis":{"values":[-3,0,3,6,9,12,15,18,21,24,27,30],"title":null}}},
"layer":[
{"data":{"values":[{"w":-3,"w2":0.6},{"w":8,"w2":30}]},"mark":{"type":"rect","color":"#d6d6d6"},"encoding":{"x2":{"field":"w2"}}},
{"data":{"values":[{"i":0,"w":0,"v":2.67},{"i":1,"w":1,"v":2.01},{"i":2,"w":2,"v":1.75},{"i":3,"w":3,"v":0.38},{"i":4,"w":3,"v":2.78},{"i":5,"w":4,"v":1.87},{"i":6,"w":6,"v":0.95},{"i":7,"w":6,"v":2.78},{"i":8,"w":7,"v":1.73},{"i":9,"w":8,"v":1.25},{"i":10,"w":12,"v":0.95},{"i":11,"w":16,"v":0.0}]},"mark":{"type":"line","color":"#ee2a2d","strokeWidth":0.9,"clip":true,"point":{"filled":true,"size":14,"color":"#ee2a2d","opacity":1,"clip":true}},"encoding":{"y":{"field":"v","type":"quantitative","scale":{"domain":[0,4],"nice":false},"axis":{"orient":"right","values":[0,1,2,3,4],"labelExpr":"'10'+['⁰','¹','²','³','⁴'][datum.value]","title":null}},"order":{"field":"i"}}},
{"data":{"values":[{"i":0,"w":0,"v":3.25},{"i":1,"w":1,"v":2.52},{"i":2,"w":2,"v":2.35},{"i":3,"w":3,"v":2.06},{"i":4,"w":3,"v":3.47},{"i":5,"w":4,"v":2.57},{"i":6,"w":6,"v":2.13},{"i":7,"w":6,"v":3.47},{"i":8,"w":7,"v":2.57},{"i":9,"w":8,"v":2.19},{"i":10,"w":12,"v":1.73},{"i":11,"w":16,"v":1.41},{"i":12,"w":18,"v":1.05},{"i":13,"w":20,"v":0.74},{"i":14,"w":24,"v":0.32},{"i":15,"w":26,"v":-0.6}]},"mark":{"type":"line","color":"#3a5dae","strokeWidth":0.9,"clip":true,"point":{"filled":true,"size":14,"color":"#3a5dae","opacity":1,"clip":true}},"encoding":{"y":{"field":"v","type":"quantitative","scale":{"domain":[0,4],"nice":false},"axis":null},"order":{"field":"i"}}},
{"data":{"values":[{"w":-2,"v":1.28},{"w":0,"v":1.28},{"w":1,"v":1.28},{"w":2,"v":1.28},{"w":3,"v":1.28},{"w":4,"v":1.28},{"w":5,"v":1.28},{"w":6,"v":2.3},{"w":7,"v":3.24},{"w":8,"v":3.78},{"w":10,"v":2.15},{"w":12,"v":1.57},{"w":14,"v":2.22},{"w":16,"v":2.11},{"w":18,"v":4.17},{"w":20,"v":2.59},{"w":22,"v":2.43},{"w":24,"v":1.57},{"w":26,"v":1.46},{"w":28,"v":1.28},{"w":30,"v":1.28}]},"mark":{"type":"line","color":"#000","strokeWidth":1,"point":{"filled":true,"size":14,"color":"#000","opacity":1}},"encoding":{"y":{"field":"v","type":"quantitative","scale":{"domain":[0,6],"nice":false},"axis":{"orient":"left","values":[0,1,2,3,4,5,6],"title":null}}}},
{"data":{"values":[{"w":0},{"w":3},{"w":6}]},"mark":{"type":"point","shape":"triangle-down","filled":true,"size":42,"color":"#3a5dae","opacity":1},"encoding":{"y":{"datum":6.85,"type":"quantitative","scale":{"domain":[0,6],"nice":false},"axis":null}}},
{"data":{"values":[{"w":0},{"w":3},{"w":6}]},"mark":{"type":"point","shape":"triangle-down","filled":true,"size":42,"color":"#ee2a2d","opacity":1},"encoding":{"y":{"datum":6.33,"type":"quantitative","scale":{"domain":[0,6],"nice":false},"axis":null}}},
{"data":{"values":[{"id":"9251"}]},"mark":{"type":"text","align":"left","baseline":"middle","fontSize":13},"encoding":{"x":{"datum":0.9,"type":"quantitative"},"y":{"datum":0.5,"type":"quantitative","scale":{"domain":[0,6],"nice":false},"axis":null},"text":{"field":"id"}}}
],
"resolve":{"scale":{"y":"independent"}}},
{"width":66,"height":92,
"data":{"values":[{}]},
"layer":[
{"mark":{"type":"rule","color":"#000","strokeWidth":1.2},"encoding":{"x":{"datum":0.515,"type":"quantitative","scale":{"domain":[0,1],"nice":false,"zero":false},"axis":null},"y":{"datum":2.83,"type":"quantitative","scale":{"domain":[0,1],"reverse":true,"nice":false,"zero":false},"axis":null},"y2":{"datum":-0.07}}},
{"mark":{"type":"point","shape":"triangle-up","filled":true,"size":55,"color":"#000","opacity":1},"encoding":{"x":{"datum":0.515,"type":"quantitative","scale":{"domain":[0,1],"nice":false,"zero":false},"axis":null},"y":{"datum":-0.082,"type":"quantitative","scale":{"domain":[0,1],"reverse":true,"nice":false,"zero":false},"axis":null}}},
{"mark":{"type":"text","text":"bNAb serum levels (µg/ml)","angle":90,"align":"center","baseline":"middle","fontSize":14},"encoding":{"x":{"datum":0.742,"type":"quantitative","scale":{"domain":[0,1],"nice":false,"zero":false},"axis":null},"y":{"datum":2.049,"type":"quantitative","scale":{"domain":[0,1],"reverse":true,"nice":false,"zero":false},"axis":null}}}
]},

{"width":58,"height":92,
"data":{"values":[{}]},
"layer":[
{"mark":{"type":"rule","color":"#000","strokeWidth":1.2},"encoding":{"x":{"datum":0.776,"type":"quantitative","scale":{"domain":[0,1],"nice":false,"zero":false},"axis":null},"x2":{"datum":3.45},"y":{"datum":1.283,"type":"quantitative","scale":{"domain":[0,1],"reverse":true,"nice":false,"zero":false},"axis":null}}},
{"mark":{"type":"point","shape":"triangle-right","filled":true,"size":55,"color":"#000","opacity":1},"encoding":{"x":{"datum":3.5,"type":"quantitative","scale":{"domain":[0,1],"nice":false,"zero":false},"axis":null},"y":{"datum":1.283,"type":"quantitative","scale":{"domain":[0,1],"reverse":true,"nice":false,"zero":false},"axis":null}}},
{"mark":{"type":"text","text":"Weeks of ATI","align":"center","baseline":"middle","fontSize":14},"encoding":{"x":{"datum":2.03,"type":"quantitative","scale":{"domain":[0,1],"nice":false,"zero":false},"axis":null},"y":{"datum":1.391,"type":"quantitative","scale":{"domain":[0,1],"reverse":true,"nice":false,"zero":false},"axis":null}}}
]},
{"width":137,"height":92,
"encoding":{"x":{"field":"w","type":"quantitative","scale":{"domain":[-3,30],"nice":false},"axis":{"values":[-3,0,3,6,9,12,15,18,21,24,27,30],"title":null}}},
"layer":[
{"data":{"values":[{"w":-3,"w2":0.5},{"w":22.1,"w2":30}]},"mark":{"type":"rect","color":"#d6d6d6"},"encoding":{"x2":{"field":"w2"}}},
{"data":{"values":[{"i":0,"w":0,"v":2.91},{"i":1,"w":3,"v":1.56},{"i":2,"w":3,"v":2.91},{"i":3,"w":6,"v":1.92},{"i":4,"w":6,"v":3.04},{"i":5,"w":9,"v":1.85},{"i":6,"w":12,"v":1.31},{"i":7,"w":15,"v":0.87},{"i":8,"w":18,"v":0.54},{"i":9,"w":21,"v":-0.4}]},"mark":{"type":"line","color":"#ee2a2d","strokeWidth":0.9,"clip":true,"point":{"filled":true,"size":14,"color":"#ee2a2d","opacity":1,"clip":true}},"encoding":{"y":{"field":"v","type":"quantitative","scale":{"domain":[0,4],"nice":false},"axis":{"orient":"right","values":[0,1,2,3,4],"labelExpr":"'10'+['⁰','¹','²','³','⁴'][datum.value]","title":null}},"order":{"field":"i"}}},
{"data":{"values":[{"i":0,"w":0,"v":3.74},{"i":1,"w":3,"v":2.51},{"i":2,"w":3,"v":3.91},{"i":3,"w":6,"v":2.43},{"i":4,"w":6,"v":3.81},{"i":5,"w":9,"v":2.68},{"i":6,"w":12,"v":2.04},{"i":7,"w":15,"v":1.73},{"i":8,"w":18,"v":1.49},{"i":9,"w":20,"v":1.15},{"i":10,"w":22,"v":0.86},{"i":11,"w":23,"v":0.79},{"i":12,"w":24,"v":0.64},{"i":13,"w":27,"v":-0.53}]},"mark":{"type":"line","color":"#3a5dae","strokeWidth":0.9,"clip":true,"point":{"filled":true,"size":14,"color":"#3a5dae","opacity":1,"clip":true}},"encoding":{"y":{"field":"v","type":"quantitative","scale":{"domain":[0,4],"nice":false},"axis":null},"order":{"field":"i"}}},
{"data":{"values":[{"w":-2,"v":1.3},{"w":0,"v":1.3},{"w":1,"v":1.3},{"w":2,"v":1.3},{"w":3,"v":1.3},{"w":4,"v":1.3},{"w":5,"v":1.3},{"w":6,"v":1.3},{"w":7,"v":1.3},{"w":8,"v":1.3},{"w":9,"v":1.3},{"w":10,"v":1.3},{"w":11,"v":1.3},{"w":12,"v":1.3},{"w":13,"v":1.3},{"w":14,"v":1.3},{"w":15,"v":1.3},{"w":16,"v":1.3},{"w":17,"v":1.3},{"w":18,"v":1.3},{"w":19,"v":1.3},{"w":20,"v":1.3},{"w":21,"v":1.3},{"w":22,"v":3.25},{"w":23,"v":2.71},{"w":24,"v":1.3},{"w":26,"v":1.3},{"w":30,"v":1.3}]},"mark":{"type":"line","color":"#000","strokeWidth":1,"point":{"filled":true,"size":14,"color":"#000","opacity":1}},"encoding":{"y":{"field":"v","type":"quantitative","scale":{"domain":[0,6],"nice":false},"axis":{"orient":"left","values":[0,1,2,3,4,5,6],"title":null}}}},
{"data":{"values":[{"w":0},{"w":3},{"w":6}]},"mark":{"type":"point","shape":"triangle-down","filled":true,"size":42,"color":"#3a5dae","opacity":1},"encoding":{"y":{"datum":6.85,"type":"quantitative","scale":{"domain":[0,6],"nice":false},"axis":null}}},
{"data":{"values":[{"w":0},{"w":3},{"w":6}]},"mark":{"type":"point","shape":"triangle-down","filled":true,"size":42,"color":"#ee2a2d","opacity":1},"encoding":{"y":{"datum":6.33,"type":"quantitative","scale":{"domain":[0,6],"nice":false},"axis":null}}},
{"data":{"values":[{"id":"9252"}]},"mark":{"type":"text","align":"left","baseline":"middle","fontSize":13},"encoding":{"x":{"datum":0.7,"type":"quantitative"},"y":{"datum":0.5,"type":"quantitative","scale":{"domain":[0,6],"nice":false},"axis":null},"text":{"field":"id"}}}
],
"resolve":{"scale":{"y":"independent"}}},
{"width":37.5,"height":92,"data":{"values":[]},"mark":"point"},
{"width":137,"height":92,
"encoding":{"x":{"field":"w","type":"quantitative","scale":{"domain":[-3,30],"nice":false},"axis":{"values":[-3,0,3,6,9,12,15,18,21,24,27,30],"title":null}}},
"layer":[
{"data":{"values":[{"w":-3,"w2":0.5}]},"mark":{"type":"rect","color":"#d6d6d6"},"encoding":{"x2":{"field":"w2"}}},
{"data":{"values":[{"i":0,"w":0,"v":3.09},{"i":1,"w":3,"v":1.75},{"i":2,"w":3,"v":3.2},{"i":3,"w":6,"v":1.67},{"i":4,"w":6,"v":2.87},{"i":5,"w":9,"v":1.99},{"i":6,"w":12,"v":1.22},{"i":7,"w":15,"v":0.58},{"i":8,"w":18,"v":0.03},{"i":9,"w":20,"v":-0.37}]},"mark":{"type":"line","color":"#ee2a2d","strokeWidth":0.9,"clip":true,"point":{"filled":true,"size":14,"color":"#ee2a2d","opacity":1,"clip":true}},"encoding":{"y":{"field":"v","type":"quantitative","scale":{"domain":[0,4],"nice":false},"axis":{"orient":"right","values":[0,1,2,3,4],"labelExpr":"'10'+['⁰','¹','²','³','⁴'][datum.value]","title":null}},"order":{"field":"i"}}},
{"data":{"values":[{"i":0,"w":0,"v":3.2},{"i":1,"w":3,"v":2.25},{"i":2,"w":3,"v":3.2},{"i":3,"w":6,"v":2.36},{"i":4,"w":6,"v":3.27},{"i":5,"w":9,"v":2.36},{"i":6,"w":12,"v":1.92},{"i":7,"w":15,"v":1.82},{"i":8,"w":18,"v":1.44},{"i":9,"w":21,"v":1.12},{"i":10,"w":24,"v":0.97}]},"mark":{"type":"line","color":"#3a5dae","strokeWidth":0.9,"clip":true,"point":{"filled":true,"size":14,"color":"#3a5dae","opacity":1,"clip":true}},"encoding":{"y":{"field":"v","type":"quantitative","scale":{"domain":[0,4],"nice":false},"axis":null},"order":{"field":"i"}}},
{"data":{"values":[{"w":-2,"v":1.3},{"w":0,"v":1.3},{"w":1,"v":1.3},{"w":2,"v":1.3},{"w":3,"v":1.3},{"w":4,"v":1.3},{"w":5,"v":1.3},{"w":6,"v":1.3},{"w":7,"v":1.3},{"w":8,"v":1.3},{"w":9,"v":1.3},{"w":10,"v":1.3},{"w":11,"v":1.3},{"w":12,"v":1.3},{"w":13,"v":1.3},{"w":14,"v":1.3},{"w":15,"v":1.3},{"w":16,"v":1.3},{"w":17,"v":1.3},{"w":18,"v":1.3},{"w":19,"v":1.3},{"w":20,"v":1.3},{"w":21,"v":1.3},{"w":22,"v":1.3},{"w":23,"v":1.3},{"w":24,"v":1.3},{"w":25,"v":1.3},{"w":26,"v":1.3},{"w":27,"v":1.3},{"w":29,"v":1.3}]},"mark":{"type":"line","color":"#000","strokeWidth":1,"point":{"filled":true,"size":14,"color":"#000","opacity":1}},"encoding":{"y":{"field":"v","type":"quantitative","scale":{"domain":[0,6],"nice":false},"axis":{"orient":"left","values":[0,1,2,3,4,5,6],"title":null}}}},
{"data":{"values":[{"w":0},{"w":3},{"w":6}]},"mark":{"type":"point","shape":"triangle-down","filled":true,"size":42,"color":"#3a5dae","opacity":1},"encoding":{"y":{"datum":6.85,"type":"quantitative","scale":{"domain":[0,6],"nice":false},"axis":null}}},
{"data":{"values":[{"w":0},{"w":3},{"w":6}]},"mark":{"type":"point","shape":"triangle-down","filled":true,"size":42,"color":"#ee2a2d","opacity":1},"encoding":{"y":{"datum":6.33,"type":"quantitative","scale":{"domain":[0,6],"nice":false},"axis":null}}},
{"data":{"values":[{"id":"9254"}]},"mark":{"type":"text","align":"left","baseline":"middle","fontSize":13},"encoding":{"x":{"datum":0.7,"type":"quantitative"},"y":{"datum":0.5,"type":"quantitative","scale":{"domain":[0,6],"nice":false},"axis":null},"text":{"field":"id"}}}
],
"resolve":{"scale":{"y":"independent"}}},
{"width":37.5,"height":92,"data":{"values":[]},"mark":"point"},
{"width":137,"height":92,
"encoding":{"x":{"field":"w","type":"quantitative","scale":{"domain":[-3,30],"nice":false},"axis":{"values":[-3,0,3,6,9,12,15,18,21,24,27,30],"title":null}}},
"layer":[
{"data":{"values":[{"w":-3,"w2":0.5}]},"mark":{"type":"rect","color":"#d6d6d6"},"encoding":{"x2":{"field":"w2"}}},
{"data":{"values":[{"i":0,"w":0,"v":3.11},{"i":1,"w":3,"v":1.75},{"i":2,"w":3,"v":2.83},{"i":3,"w":6,"v":1.53},{"i":4,"w":6,"v":2.79},{"i":5,"w":9,"v":1.49},{"i":6,"w":12,"v":1.53},{"i":7,"w":14,"v":1.02},{"i":8,"w":18,"v":0.37},{"i":9,"w":21,"v":-0.27}]},"mark":{"type":"line","color":"#ee2a2d","strokeWidth":0.9,"clip":true,"point":{"filled":true,"size":14,"color":"#ee2a2d","opacity":1,"clip":true}},"encoding":{"y":{"field":"v","type":"quantitative","scale":{"domain":[0,4],"nice":false},"axis":{"orient":"right","values":[0,1,2,3,4],"labelExpr":"'10'+['⁰','¹','²','³','⁴'][datum.value]","title":null}},"order":{"field":"i"}}},
{"data":{"values":[{"i":0,"w":0,"v":3.01},{"i":1,"w":3,"v":2.24},{"i":2,"w":3,"v":3.16},{"i":3,"w":6,"v":2.39},{"i":4,"w":6,"v":3.2},{"i":5,"w":9,"v":2.46},{"i":6,"w":12,"v":2.04},{"i":7,"w":14,"v":1.75},{"i":8,"w":18,"v":1.49},{"i":9,"w":30,"v":0.43}]},"mark":{"type":"line","color":"#3a5dae","strokeWidth":0.9,"clip":true,"point":{"filled":true,"size":14,"color":"#3a5dae","opacity":1,"clip":true}},"encoding":{"y":{"field":"v","type":"quantitative","scale":{"domain":[0,4],"nice":false},"axis":null},"order":{"field":"i"}}},
{"data":{"values":[{"w":-2,"v":1.3},{"w":0,"v":1.3},{"w":1,"v":1.3},{"w":2,"v":1.3},{"w":3,"v":1.3},{"w":4,"v":1.3},{"w":5,"v":1.3},{"w":6,"v":1.3},{"w":7,"v":1.3},{"w":8,"v":1.3},{"w":9,"v":1.3},{"w":10,"v":1.3},{"w":11,"v":1.3},{"w":12,"v":1.3},{"w":13,"v":1.3},{"w":14,"v":1.3},{"w":15,"v":2.34},{"w":16,"v":1.3},{"w":17,"v":1.3},{"w":18,"v":1.79},{"w":19,"v":1.3},{"w":20,"v":1.3},{"w":21,"v":1.75},{"w":22,"v":1.62},{"w":23,"v":1.3},{"w":24,"v":1.3},{"w":25,"v":1.3},{"w":26,"v":1.3},{"w":27,"v":1.53},{"w":28,"v":1.3},{"w":29,"v":1.3},{"w":30,"v":1.3}]},"mark":{"type":"line","color":"#000","strokeWidth":1,"point":{"filled":true,"size":14,"color":"#000","opacity":1}},"encoding":{"y":{"field":"v","type":"quantitative","scale":{"domain":[0,6],"nice":false},"axis":{"orient":"left","values":[0,1,2,3,4,5,6],"title":null}}}},
{"data":{"values":[{"w":0},{"w":3},{"w":6}]},"mark":{"type":"point","shape":"triangle-down","filled":true,"size":42,"color":"#3a5dae","opacity":1},"encoding":{"y":{"datum":6.85,"type":"quantitative","scale":{"domain":[0,6],"nice":false},"axis":null}}},
{"data":{"values":[{"w":0},{"w":3},{"w":6}]},"mark":{"type":"point","shape":"triangle-down","filled":true,"size":42,"color":"#ee2a2d","opacity":1},"encoding":{"y":{"datum":6.33,"type":"quantitative","scale":{"domain":[0,6],"nice":false},"axis":null}}},
{"data":{"values":[{"id":"9255"}]},"mark":{"type":"text","align":"left","baseline":"middle","fontSize":13},"encoding":{"x":{"datum":0.7,"type":"quantitative"},"y":{"datum":0.5,"type":"quantitative","scale":{"domain":[0,6],"nice":false},"axis":null},"text":{"field":"id"}}}
],
"resolve":{"scale":{"y":"independent"}}},
{"width":53,"height":92,"data":{"values":[]},"mark":"point"},
{"width":137,"height":92,
"data":{"values":[{"key":"vl","label":"Viral Load"},{"key":"r","label":"3BNC117"},{"key":"b","label":"10-1074"},{"key":"rt","label":"3BNC117"},{"key":"bt","label":"10-1074"},{"key":"art","label":"on ART"}]},
"encoding":{"y":{"field":"key","type":"nominal","scale":{"type":"point","domain":["vl","r","b","rt","bt","art"],"range":[29.5,110.5],"padding":0},"axis":null},"color":{"field":"key","type":"nominal","scale":{"domain":["vl","r","b","rt","bt","art"],"range":["#000","#ee2a2d","#3a5dae","#ee2a2d","#3a5dae","#d6d6d6"]},"legend":null}},
"layer":[
{"transform":[{"filter":{"field":"key","oneOf":["vl","r","b"]}}],"mark":{"type":"rule","strokeWidth":1},"encoding":{"x":{"datum":-0.036,"type":"quantitative","scale":{"domain":[0,1],"nice":false,"zero":false},"axis":null},"x2":{"datum":0.109}}},
{"transform":[{"filter":{"field":"key","oneOf":["vl","r","b"]}}],"mark":{"type":"point","filled":true,"size":18,"opacity":1},"encoding":{"x":{"datum":0.036,"type":"quantitative","scale":{"domain":[0,1],"nice":false,"zero":false},"axis":null}}},
{"transform":[{"filter":{"field":"key","oneOf":["rt","bt"]}}],"mark":{"type":"point","shape":"triangle-down","filled":true,"size":50,"opacity":1},"encoding":{"x":{"datum":0.036,"type":"quantitative","scale":{"domain":[0,1],"nice":false,"zero":false},"axis":null}}},
{"transform":[{"filter":{"field":"key","oneOf":["art"]}}],"mark":{"type":"point","shape":"square","filled":true,"size":90,"opacity":1},"encoding":{"x":{"datum":0.036,"type":"quantitative","scale":{"domain":[0,1],"nice":false,"zero":false},"axis":null}}},
{"mark":{"type":"text","align":"left","baseline":"middle","fontSize":12},"encoding":{"x":{"datum":0.146,"type":"quantitative","scale":{"domain":[0,1],"nice":false,"zero":false},"axis":null},"text":{"field":"label"},"color":{"value":"#000"}}},
{"transform":[{"filter":"datum.key=='rt'"}],"mark":{"type":"rule","strokeWidth":1,"yOffset":-6,"y2Offset":6},"encoding":{"x":{"datum":0.555,"type":"quantitative","scale":{"domain":[0,1],"nice":false,"zero":false},"axis":null},"y":{"datum":"rt"},"y2":{"datum":"bt"},"color":{"value":"#000"}}},
{"transform":[{"filter":"datum.key=='rt'"}],"mark":{"type":"text","text":"30 mg/kg","align":"left","baseline":"middle","fontSize":12},"encoding":{"x":{"datum":0.59,"type":"quantitative","scale":{"domain":[0,1],"nice":false,"zero":false},"axis":null},"y":{"datum":"rt"},"color":{"value":"#000"}}},
{"transform":[{"filter":"datum.key=='rt'"}],"mark":{"type":"text","text":"i.v.","align":"left","baseline":"middle","fontSize":12},"encoding":{"x":{"datum":0.74,"type":"quantitative","scale":{"domain":[0,1],"nice":false,"zero":false},"axis":null},"y":{"datum":"bt"},"color":{"value":"#000"}}}
]
},
{"width":66,"height":92,"data":{"values":[]},"mark":"point"},

{"width":0,"height":17,"data":{"values":[]},"mark":"point"},
{"width":0,"height":17,"data":{"values":[]},"mark":"point"},
{"width":0,"height":17,"data":{"values":[]},"mark":"point"},
{"width":0,"height":17,"data":{"values":[]},"mark":"point"},
{"width":0,"height":17,"data":{"values":[]},"mark":"point"},
{"width":0,"height":17,"data":{"values":[]},"mark":"point"},
{"width":0,"height":17,"data":{"values":[]},"mark":"point"},
{"width":0,"height":17,"data":{"values":[]},"mark":"point"},
{"width":0,"height":17,"data":{"values":[]},"mark":"point"},

{"hconcat":[
{"width":70,"height":113,
"data":{"values":[{}]},
"mark":{"type":"text","text":"c","align":"left","baseline":"middle","fontSize":17,"fontWeight":"bold"},
"encoding":{"x":{"datum":0.2,"type":"quantitative","scale":{"domain":[0,1],"nice":false,"zero":false},"axis":null},"y":{"datum":-0.39,"type":"quantitative","scale":{"domain":[0,1],"reverse":true,"nice":false,"zero":false},"axis":null}}
},
{
"width":186,"height":113,
"title":{"text":"Initially controlled participants","fontSize":16,"fontWeight":"normal","frame":"group","anchor":"middle","offset":13},
"data":{"name":"km"},
"transform":[{"filter":"datum.c=='all' || datum.c=='ic'"}],
"mark":{"type":"line","interpolate":"step-after","strokeWidth":1.6},
"encoding":{
"x":{"field":"t","type":"quantitative","scale":{"domain":[0,30],"nice":false,"zero":false},"axis":{"values":[0,5,10,15,20,25,30],"title":"Weeks of ATI","titleFontSize":14,"labelFontSize":12,"labelAngle":0,"labelPadding":2,"tickSize":4,"titlePadding":4}},
"y":{"field":"s","type":"quantitative","scale":{"domain":[0,100],"nice":false},"axis":{"values":[0,25,50,75,100],"title":["% Below","200 copies/ml"],"titleFontSize":13,"labelFontSize":12,"tickSize":4,"titlePadding":4}},
"color":{"field":"g","type":"nominal","scale":{"domain":["No bNAb","3BNC117","3BNC117 + 10-1074"],"range":["#1a1a1a","#ef3b33","#4a66b2"]},"legend":null},
"strokeDash":{"field":"g","type":"nominal","scale":{"domain":["No bNAb","3BNC117","3BNC117 + 10-1074"],"range":[[3,2],[2,2],[1,0]]},"legend":null}
}
},
{"width":44,"height":113,"data":{"values":[]},"mark":"point"},
{
"width":186,"height":113,
"title":{"text":"Sensitive reservoir","fontSize":16,"fontWeight":"normal","frame":"group","anchor":"middle","offset":13},
"data":{"name":"km"},
"transform":[{"filter":"datum.c=='all' || datum.c=='sr'"}],
"mark":{"type":"line","interpolate":"step-after","strokeWidth":1.6},
"encoding":{
"x":{"field":"t","type":"quantitative","scale":{"domain":[0,30],"nice":false,"zero":false},"axis":{"values":[0,5,10,15,20,25,30],"title":"Weeks of ATI","titleFontSize":14,"labelFontSize":12,"labelAngle":0,"labelPadding":2,"tickSize":4,"titlePadding":4}},
"y":{"field":"s","type":"quantitative","scale":{"domain":[0,100],"nice":false},"axis":{"values":[0,25,50,75,100],"title":null,"labelFontSize":12,"tickSize":4}},
"color":{"field":"g","type":"nominal","scale":{"domain":["No bNAb","3BNC117","3BNC117 + 10-1074"],"range":["#1a1a1a","#ef3b33","#4a66b2"]},"legend":null},
"strokeDash":{"field":"g","type":"nominal","scale":{"domain":["No bNAb","3BNC117","3BNC117 + 10-1074"],"range":[[3,2],[2,2],[1,0]]},"legend":null}
}
},
{"width":43.5,"height":113,"data":{"values":[]},"mark":"point"},
{
"width":186,"height":113,
"title":{"text":"Resistant reservoir","fontSize":16,"fontWeight":"normal","frame":"group","anchor":"middle","offset":13},
"data":{"name":"km"},
"transform":[{"filter":"datum.c=='all' || datum.c=='rr'"}],
"mark":{"type":"line","interpolate":"step-after","strokeWidth":1.6},
"encoding":{
"x":{"field":"t","type":"quantitative","scale":{"domain":[0,30],"nice":false,"zero":false},"axis":{"values":[0,5,10,15,20,25,30],"title":"Weeks of ATI","titleFontSize":14,"labelFontSize":12,"labelAngle":0,"labelPadding":2,"tickSize":4,"titlePadding":4}},
"y":{"field":"s","type":"quantitative","scale":{"domain":[0,100],"nice":false},"axis":{"values":[0,25,50,75,100],"title":null,"labelFontSize":12,"tickSize":4}},
"color":{"field":"g","type":"nominal","scale":{"domain":["No bNAb","3BNC117","3BNC117 + 10-1074"],"range":["#1a1a1a","#ef3b33","#4a66b2"]},"legend":{"orient":"none","legendX":158,"legendY":-1,"title":null,"labelFontSize":14.5,"symbolType":"stroke","symbolSize":220,"symbolStrokeWidth":1.6,"rowPadding":7.5,"labelLimit":200,"labelExpr":"datum.label == '3BNC117 + 10-1074' ? ['3BNC117 +', '10-1074'] : datum.label"}},
"strokeDash":{"field":"g","type":"nominal","scale":{"domain":["No bNAb","3BNC117","3BNC117 + 10-1074"],"range":[[3,2],[2,2],[1,0]]},"legend":{"orient":"none","legendX":158,"legendY":-1,"title":null,"labelFontSize":14.5,"symbolType":"stroke","symbolSize":220,"symbolStrokeWidth":1.6,"rowPadding":7.5,"labelLimit":200,"labelExpr":"datum.label == '3BNC117 + 10-1074' ? ['3BNC117 +', '10-1074'] : datum.label"}}
}
}
],"spacing":0,"bounds":"flush","resolve":{"scale":{"color":"independent","strokeDash":"independent"},"legend":{"color":"independent","strokeDash":"independent"}}},
{"width":0,"height":113,"data":{"values":[]},"mark":"point"},
{"width":0,"height":113,"data":{"values":[]},"mark":"point"},
{"width":0,"height":113,"data":{"values":[]},"mark":"point"},
{"width":0,"height":113,"data":{"values":[]},"mark":"point"},
{"width":0,"height":113,"data":{"values":[]},"mark":"point"},
{"width":0,"height":113,"data":{"values":[]},"mark":"point"},
{"width":0,"height":113,"data":{"values":[]},"mark":"point"},
{"width":0,"height":113,"data":{"values":[]},"mark":"point"}
]
}
